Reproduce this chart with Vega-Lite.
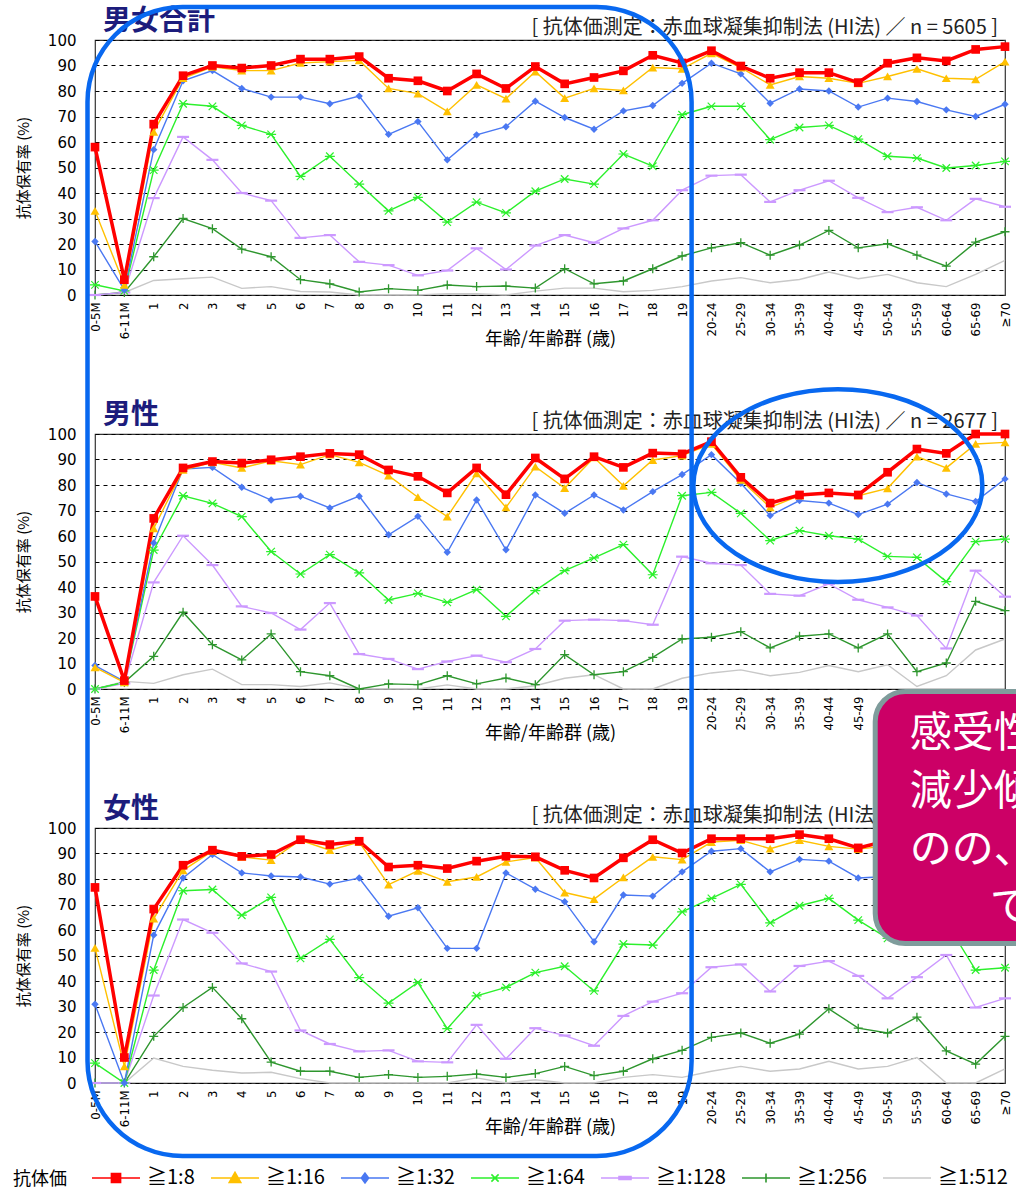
{
"$schema": "https://vega.github.io/schema/vega-lite/v6.json",
"padding": {"left": 13, "top": 4, "right": 0, "bottom": 0},
"background": "white",
"bounds": "flush",
"spacing": 139,
"config": {
  "font": "Noto Sans CJK JP",
  "view": {"stroke": "#333333", "strokeWidth": 1.2},
  "axisX": {"labelAngle": -90, "labelFont": "DejaVu Sans Condensed, DejaVu Sans", "labelFontSize": 13, "labelColor": "#000000", "labelPadding": 7, "labelOverlap": false, "ticks": false, "domain": false, "grid": false, "titleFontSize": 18, "titleFontWeight": "normal", "titleColor": "#000000", "titleY": 44, "titleBaseline": "middle"},
  "axisY": {"grid": true, "tickCount": 11, "gridColor": "#000000", "gridDash": [4, 4], "gridWidth": 1, "gridOpacity": 1, "domain": false, "ticks": false, "labelFont": "DejaVu Sans", "labelFontSize": 15, "labelColor": "#000000", "labelPadding": 19, "titleFontSize": 15, "titleFontWeight": "normal", "titleColor": "#000000", "titlePadding": 16},
  "legend": {"labelFont": "Noto Sans CJK JP", "titleFont": "Noto Sans CJK JP"}
},
"data": {"values": [
{"sex":"男女合計","age":"0-5M","≧1:8":58,"≧1:16":33,"≧1:32":21,"≧1:64":4,"≧1:128":0,"≧1:256":0,"≧1:512":0},
{"sex":"男女合計","age":"6-11M","≧1:8":6,"≧1:16":4,"≧1:32":2,"≧1:64":1.6,"≧1:128":1,"≧1:256":1,"≧1:512":1},
{"sex":"男女合計","age":"1","≧1:8":67,"≧1:16":64,"≧1:32":57,"≧1:64":49,"≧1:128":38,"≧1:256":15,"≧1:512":5.7},
{"sex":"男女合計","age":"2","≧1:8":86,"≧1:16":85,"≧1:32":84,"≧1:64":75,"≧1:128":62,"≧1:256":30,"≧1:512":6.4},
{"sex":"男女合計","age":"3","≧1:8":90,"≧1:16":89.5,"≧1:32":88,"≧1:64":74,"≧1:128":53,"≧1:256":26,"≧1:512":7},
{"sex":"男女合計","age":"4","≧1:8":89,"≧1:16":88,"≧1:32":81,"≧1:64":66.5,"≧1:128":40,"≧1:256":18,"≧1:512":2.6},
{"sex":"男女合計","age":"5","≧1:8":90,"≧1:16":88,"≧1:32":77.6,"≧1:64":63,"≧1:128":37,"≧1:256":15,"≧1:512":3.3},
{"sex":"男女合計","age":"6","≧1:8":92.5,"≧1:16":91,"≧1:32":77.6,"≧1:64":46.5,"≧1:128":22.4,"≧1:256":6,"≧1:512":1.4},
{"sex":"男女合計","age":"7","≧1:8":92.5,"≧1:16":91.5,"≧1:32":75,"≧1:64":54.4,"≧1:128":23.5,"≧1:256":4.4,"≧1:512":1.2},
{"sex":"男女合計","age":"8","≧1:8":93.5,"≧1:16":92,"≧1:32":78,"≧1:64":43.5,"≧1:128":13,"≧1:256":1.2,"≧1:512":0},
{"sex":"男女合計","age":"9","≧1:8":85,"≧1:16":81,"≧1:32":63,"≧1:64":33,"≧1:128":11.7,"≧1:256":2.5,"≧1:512":0},
{"sex":"男女合計","age":"10","≧1:8":84,"≧1:16":79,"≧1:32":68,"≧1:64":38.3,"≧1:128":7.7,"≧1:256":1.8,"≧1:512":0},
{"sex":"男女合計","age":"11","≧1:8":80,"≧1:16":72,"≧1:32":53,"≧1:64":28.6,"≧1:128":9.6,"≧1:256":3.9,"≧1:512":0.5},
{"sex":"男女合計","age":"12","≧1:8":86.7,"≧1:16":82.4,"≧1:32":62.8,"≧1:64":36.4,"≧1:128":18.3,"≧1:256":3.3,"≧1:512":0.5},
{"sex":"男女合計","age":"13","≧1:8":81,"≧1:16":77,"≧1:32":66,"≧1:64":32.2,"≧1:128":10,"≧1:256":3.5,"≧1:512":0},
{"sex":"男女合計","age":"14","≧1:8":89.6,"≧1:16":87.6,"≧1:32":76,"≧1:64":40.7,"≧1:128":19.4,"≧1:256":2.7,"≧1:512":1.5},
{"sex":"男女合計","age":"15","≧1:8":82.8,"≧1:16":77.2,"≧1:32":69.6,"≧1:64":45.5,"≧1:128":23.5,"≧1:256":10.3,"≧1:512":2.7},
{"sex":"男女合計","age":"16","≧1:8":85.3,"≧1:16":81,"≧1:32":65,"≧1:64":43.5,"≧1:128":20.5,"≧1:256":4.4,"≧1:512":2.7},
{"sex":"男女合計","age":"17","≧1:8":87.9,"≧1:16":80.2,"≧1:32":72.2,"≧1:64":55.3,"≧1:128":26.1,"≧1:256":5.5,"≧1:512":1.3},
{"sex":"男女合計","age":"18","≧1:8":94,"≧1:16":89.2,"≧1:32":74.3,"≧1:64":50.5,"≧1:128":29.3,"≧1:256":10.3,"≧1:512":1.8},
{"sex":"男女合計","age":"19","≧1:8":91,"≧1:16":88.7,"≧1:32":83,"≧1:64":70.7,"≧1:128":41.1,"≧1:256":15.3,"≧1:512":3.3},
{"sex":"男女合計","age":"20-24","≧1:8":95.8,"≧1:16":94.8,"≧1:32":90.9,"≧1:64":74,"≧1:128":46.8,"≧1:256":18.5,"≧1:512":5.5},
{"sex":"男女合計","age":"25-29","≧1:8":89.8,"≧1:16":89.2,"≧1:32":86.7,"≧1:64":74,"≧1:128":47.2,"≧1:256":20.5,"≧1:512":6.8},
{"sex":"男女合計","age":"30-34","≧1:8":85,"≧1:16":82.4,"≧1:32":75.2,"≧1:64":60.9,"≧1:128":36.5,"≧1:256":15.6,"≧1:512":4.8},
{"sex":"男女合計","age":"35-39","≧1:8":87.2,"≧1:16":85.7,"≧1:32":80.8,"≧1:64":65.7,"≧1:128":41.1,"≧1:256":19.6,"≧1:512":6.1},
{"sex":"男女合計","age":"40-44","≧1:8":87.2,"≧1:16":85,"≧1:32":80,"≧1:64":66.5,"≧1:128":44.8,"≧1:256":25.3,"≧1:512":9},
{"sex":"男女合計","age":"45-49","≧1:8":83.3,"≧1:16":83,"≧1:32":73.7,"≧1:64":61.1,"≧1:128":38.1,"≧1:256":18.5,"≧1:512":6.4},
{"sex":"男女合計","age":"50-54","≧1:8":90.9,"≧1:16":85.7,"≧1:32":77.2,"≧1:64":54.4,"≧1:128":32.5,"≧1:256":20.1,"≧1:512":8.1},
{"sex":"男女合計","age":"55-59","≧1:8":93,"≧1:16":88.7,"≧1:32":75.9,"≧1:64":53.7,"≧1:128":34.4,"≧1:256":15.6,"≧1:512":4.8},
{"sex":"男女合計","age":"60-64","≧1:8":91.8,"≧1:16":85,"≧1:32":72.6,"≧1:64":49.8,"≧1:128":29.3,"≧1:256":11.3,"≧1:512":3.3},
{"sex":"男女合計","age":"65-69","≧1:8":96.3,"≧1:16":84.6,"≧1:32":70,"≧1:64":50.8,"≧1:128":37.7,"≧1:256":20.7,"≧1:512":8.1},
{"sex":"男女合計","age":"≥70","≧1:8":97.4,"≧1:16":91.5,"≧1:32":74.8,"≧1:64":52.4,"≧1:128":34.6,"≧1:256":24.8,"≧1:512":13.6},
{"sex":"男性","age":"0-5M","≧1:8":36.3,"≧1:16":8.5,"≧1:32":9.2,"≧1:64":0,"≧1:128":0,"≧1:256":0,"≧1:512":0},
{"sex":"男性","age":"6-11M","≧1:8":3.3,"≧1:16":2.6,"≧1:32":3,"≧1:64":2.6,"≧1:128":2.2,"≧1:256":2.6,"≧1:512":3},
{"sex":"男性","age":"1","≧1:8":66.9,"≧1:16":63,"≧1:32":57.3,"≧1:64":54.5,"≧1:128":41.8,"≧1:256":12.8,"≧1:512":2.2},
{"sex":"男性","age":"2","≧1:8":86.7,"≧1:16":85.9,"≧1:32":86.3,"≧1:64":75.8,"≧1:128":60.1,"≧1:256":30.1,"≧1:512":5.6},
{"sex":"男性","age":"3","≧1:8":89.2,"≧1:16":88.9,"≧1:32":86.9,"≧1:64":72.8,"≧1:128":48.6,"≧1:256":17.4,"≧1:512":7.8},
{"sex":"男性","age":"4","≧1:8":88.6,"≧1:16":86.7,"≧1:32":79.1,"≧1:64":67.6,"≧1:128":32.4,"≧1:256":11.4,"≧1:512":1.7},
{"sex":"男性","age":"5","≧1:8":89.9,"≧1:16":89.5,"≧1:32":74.1,"≧1:64":53.9,"≧1:128":29.8,"≧1:256":21.6,"≧1:512":1.7},
{"sex":"男性","age":"6","≧1:8":91.1,"≧1:16":88,"≧1:32":75.6,"≧1:64":45.1,"≧1:128":23.3,"≧1:256":6.8,"≧1:512":1},
{"sex":"男性","age":"7","≧1:8":92.4,"≧1:16":91.9,"≧1:32":71,"≧1:64":52.7,"≧1:128":33.7,"≧1:256":5.2,"≧1:512":2.4},
{"sex":"男性","age":"8","≧1:8":91.9,"≧1:16":88.9,"≧1:32":75.6,"≧1:64":45.5,"≧1:128":13.7,"≧1:256":0,"≧1:512":0},
{"sex":"男性","age":"9","≧1:8":85.9,"≧1:16":83.7,"≧1:32":60.5,"≧1:64":34.9,"≧1:128":11.8,"≧1:256":2,"≧1:512":0},
{"sex":"男性","age":"10","≧1:8":83.4,"≧1:16":75.2,"≧1:32":67.7,"≧1:64":37.5,"≧1:128":7.8,"≧1:256":1.7,"≧1:512":0},
{"sex":"男性","age":"11","≧1:8":76.9,"≧1:16":67.6,"≧1:32":53.6,"≧1:64":34,"≧1:128":10.8,"≧1:256":5.2,"≧1:512":1.6},
{"sex":"男性","age":"12","≧1:8":86.7,"≧1:16":84.6,"≧1:32":74.1,"≧1:64":39,"≧1:128":13.1,"≧1:256":2,"≧1:512":0},
{"sex":"男性","age":"13","≧1:8":76.2,"≧1:16":71.2,"≧1:32":54.6,"≧1:64":28.5,"≧1:128":10.5,"≧1:256":4.3,"≧1:512":0},
{"sex":"男性","age":"14","≧1:8":90.6,"≧1:16":87.2,"≧1:32":76.1,"≧1:64":38.6,"≧1:128":15.7,"≧1:256":1.7,"≧1:512":1.3},
{"sex":"男性","age":"15","≧1:8":82.4,"≧1:16":78.8,"≧1:32":68.9,"≧1:64":46.4,"≧1:128":26.8,"≧1:256":13.5,"≧1:512":4.2},
{"sex":"男性","age":"16","≧1:8":91.1,"≧1:16":90.8,"≧1:32":76.1,"≧1:64":51.4,"≧1:128":27.2,"≧1:256":5.6,"≧1:512":5.6},
{"sex":"男性","age":"17","≧1:8":86.9,"≧1:16":79.7,"≧1:32":70.2,"≧1:64":56.6,"≧1:128":26.8,"≧1:256":6.8,"≧1:512":0},
{"sex":"男性","age":"18","≧1:8":92.5,"≧1:16":89.8,"≧1:32":77.4,"≧1:64":44.8,"≧1:128":25.2,"≧1:256":12.4,"≧1:512":0},
{"sex":"男性","age":"19","≧1:8":92.2,"≧1:16":91.5,"≧1:32":84.1,"≧1:64":75.8,"≧1:128":51.9,"≧1:256":19.6,"≧1:512":4.2},
{"sex":"男性","age":"20-24","≧1:8":97,"≧1:16":96.1,"≧1:32":91.9,"≧1:64":77.1,"≧1:128":49.3,"≧1:256":20.3,"≧1:512":6.3},
{"sex":"男性","age":"25-29","≧1:8":83,"≧1:16":82,"≧1:32":80.7,"≧1:64":68.9,"≧1:128":48.6,"≧1:256":22.5,"≧1:512":7.5},
{"sex":"男性","age":"30-34","≧1:8":72.9,"≧1:16":71.2,"≧1:32":68,"≧1:64":58.2,"≧1:128":37.3,"≧1:256":16.1,"≧1:512":5.2},
{"sex":"男性","age":"35-39","≧1:8":76.1,"≧1:16":75.8,"≧1:32":73.9,"≧1:64":62.1,"≧1:128":36.6,"≧1:256":20.7,"≧1:512":6.5},
{"sex":"男性","age":"40-44","≧1:8":76.9,"≧1:16":76.9,"≧1:32":72.9,"≧1:64":60.1,"≧1:128":41.2,"≧1:256":21.6,"≧1:512":9.2},
{"sex":"男性","age":"45-49","≧1:8":76.1,"≧1:16":75.8,"≧1:32":68.4,"≧1:64":58.8,"≧1:128":35,"≧1:256":16.1,"≧1:512":6.8},
{"sex":"男性","age":"50-54","≧1:8":85,"≧1:16":78.7,"≧1:32":72.5,"≧1:64":52,"≧1:128":32,"≧1:256":21.6,"≧1:512":9.5},
{"sex":"男性","age":"55-59","≧1:8":94.1,"≧1:16":91.1,"≧1:32":81,"≧1:64":51.6,"≧1:128":28.8,"≧1:256":6.8,"≧1:512":1},
{"sex":"男性","age":"60-64","≧1:8":92.4,"≧1:16":86.7,"≧1:32":76.5,"≧1:64":42.1,"≧1:128":15.9,"≧1:256":10.2,"≧1:512":5.2},
{"sex":"男性","age":"65-69","≧1:8":100,"≧1:16":96.1,"≧1:32":73.5,"≧1:64":57.8,"≧1:128":46.4,"≧1:256":34.4,"≧1:512":15.3},
{"sex":"男性","age":"≥70","≧1:8":100,"≧1:16":96.7,"≧1:32":82.4,"≧1:64":58.8,"≧1:128":36.2,"≧1:256":30.7,"≧1:512":19.6},
{"sex":"女性","age":"0-5M","≧1:8":76.7,"≧1:16":53,"≧1:32":30.9,"≧1:64":7.8,"≧1:128":0,"≧1:256":0,"≧1:512":0},
{"sex":"女性","age":"6-11M","≧1:8":10,"≧1:16":6.5,"≧1:32":0,"≧1:64":0,"≧1:128":0,"≧1:256":0,"≧1:512":0},
{"sex":"女性","age":"1","≧1:8":68.2,"≧1:16":64.5,"≧1:32":58,"≧1:64":44.3,"≧1:128":34.3,"≧1:256":18.3,"≧1:512":9.8},
{"sex":"女性","age":"2","≧1:8":85.4,"≧1:16":83.4,"≧1:32":80.4,"≧1:64":75.4,"≧1:128":64.1,"≧1:256":29.6,"≧1:512":6.5},
{"sex":"女性","age":"3","≧1:8":91.3,"≧1:16":90.9,"≧1:32":89.6,"≧1:64":75.9,"≧1:128":58.9,"≧1:256":37.5,"≧1:512":5},
{"sex":"女性","age":"4","≧1:8":88.9,"≧1:16":88.7,"≧1:32":82.4,"≧1:64":65.8,"≧1:128":46.9,"≧1:256":25.2,"≧1:512":3.9},
{"sex":"女性","age":"5","≧1:8":89.6,"≧1:16":87.4,"≧1:32":81.2,"≧1:64":72.8,"≧1:128":43.7,"≧1:256":8.2,"≧1:512":4.2},
{"sex":"女性","age":"6","≧1:8":95.4,"≧1:16":95.2,"≧1:32":80.8,"≧1:64":48.9,"≧1:128":20.6,"≧1:256":4.6,"≧1:512":1.7},
{"sex":"女性","age":"7","≧1:8":93.5,"≧1:16":91.3,"≧1:32":78,"≧1:64":56.3,"≧1:128":15.3,"≧1:256":4.6,"≧1:512":0},
{"sex":"女性","age":"8","≧1:8":94.8,"≧1:16":94.5,"≧1:32":80.4,"≧1:64":41.3,"≧1:128":12.4,"≧1:256":2.2,"≧1:512":0},
{"sex":"女性","age":"9","≧1:8":84.7,"≧1:16":77.8,"≧1:32":65.4,"≧1:64":31.3,"≧1:128":12.8,"≧1:256":3.3,"≧1:512":0},
{"sex":"女性","age":"10","≧1:8":85.4,"≧1:16":83.2,"≧1:32":68.7,"≧1:64":39.4,"≧1:128":8.5,"≧1:256":2.2,"≧1:512":0},
{"sex":"女性","age":"11","≧1:8":84.1,"≧1:16":78.9,"≧1:32":52.8,"≧1:64":21.3,"≧1:128":8.1,"≧1:256":2.6,"≧1:512":0},
{"sex":"女性","age":"12","≧1:8":87,"≧1:16":80.8,"≧1:32":52.8,"≧1:64":34.2,"≧1:128":22.8,"≧1:256":3.5,"≧1:512":2},
{"sex":"女性","age":"13","≧1:8":88.9,"≧1:16":86.7,"≧1:32":82.4,"≧1:64":37.5,"≧1:128":9.5,"≧1:256":2.2,"≧1:512":0},
{"sex":"女性","age":"14","≧1:8":88.7,"≧1:16":88.4,"≧1:32":76,"≧1:64":43.3,"≧1:128":21.5,"≧1:256":3.7,"≧1:512":1.3},
{"sex":"女性","age":"15","≧1:8":83.4,"≧1:16":74.7,"≧1:32":71.1,"≧1:64":45.8,"≧1:128":18.6,"≧1:256":6.5,"≧1:512":0},
{"sex":"女性","age":"16","≧1:8":80.4,"≧1:16":72.1,"≧1:32":55.4,"≧1:64":36.1,"≧1:128":14.6,"≧1:256":2.9,"≧1:512":0},
{"sex":"女性","age":"17","≧1:8":88.3,"≧1:16":80.6,"≧1:32":73.7,"≧1:64":54.5,"≧1:128":26.3,"≧1:256":4.6,"≧1:512":2.2},
{"sex":"女性","age":"18","≧1:8":95.4,"≧1:16":88.7,"≧1:32":73.3,"≧1:64":54.1,"≧1:128":31.9,"≧1:256":9.5,"≧1:512":3.3},
{"sex":"女性","age":"19","≧1:8":90.2,"≧1:16":87.6,"≧1:32":82.8,"≧1:64":67.1,"≧1:128":35.2,"≧1:256":12.8,"≧1:512":2.2},
{"sex":"女性","age":"20-24","≧1:8":95.8,"≧1:16":94.5,"≧1:32":90.9,"≧1:64":72.4,"≧1:128":45.4,"≧1:256":17.9,"≧1:512":4.6},
{"sex":"女性","age":"25-29","≧1:8":95.8,"≧1:16":95.2,"≧1:32":91.9,"≧1:64":77.9,"≧1:128":46.5,"≧1:256":19.6,"≧1:512":6.5},
{"sex":"女性","age":"30-34","≧1:8":95.8,"≧1:16":91.9,"≧1:32":82.8,"≧1:64":62.8,"≧1:128":35.9,"≧1:256":15.6,"≧1:512":4.6},
{"sex":"女性","age":"35-39","≧1:8":97.4,"≧1:16":95.2,"≧1:32":87.7,"≧1:64":69.5,"≧1:128":45.9,"≧1:256":19.2,"≧1:512":5.5},
{"sex":"女性","age":"40-44","≧1:8":95.8,"≧1:16":92.8,"≧1:32":87,"≧1:64":72.4,"≧1:128":47.8,"≧1:256":29.1,"≧1:512":8.5},
{"sex":"女性","age":"45-49","≧1:8":92.2,"≧1:16":91.7,"≧1:32":80.4,"≧1:64":63.9,"≧1:128":42,"≧1:256":21.5,"≧1:512":5.5},
{"sex":"女性","age":"50-54","≧1:8":95,"≧1:16":93,"≧1:32":81,"≧1:64":56.7,"≧1:128":33.2,"≧1:256":19.6,"≧1:512":6.5},
{"sex":"女性","age":"55-59","≧1:8":96,"≧1:16":94,"≧1:32":85,"≧1:64":57,"≧1:128":41.5,"≧1:256":25.8,"≧1:512":10},
{"sex":"女性","age":"60-64","≧1:8":96,"≧1:16":93,"≧1:32":83,"≧1:64":63,"≧1:128":50.2,"≧1:256":12.6,"≧1:512":0},
{"sex":"女性","age":"65-69","≧1:8":98,"≧1:16":95,"≧1:32":80,"≧1:64":44.3,"≧1:128":29.6,"≧1:256":7.4,"≧1:512":0},
{"sex":"女性","age":"≥70","≧1:8":97,"≧1:16":94,"≧1:32":82,"≧1:64":45.2,"≧1:128":33.2,"≧1:256":18.3,"≧1:512":5.5}
]},
"transform": [{"fold": ["≧1:512","≧1:256","≧1:128","≧1:64","≧1:32","≧1:16","≧1:8"], "as": ["titer","pct"]}],
"vconcat": [
{
  "width": 910, "height": 255,
  "transform": [{"filter": {"field": "sex", "equal": "男女合計"}}],
  "layer": [
    {
      "encoding": {
        "x": {"field": "age", "type": "ordinal", "sort": ["0-5M","6-11M","1","2","3","4","5","6","7","8","9","10","11","12","13","14","15","16","17","18","19","20-24","25-29","30-34","35-39","40-44","45-49","50-54","55-59","60-64","65-69","≥70"], "scale": {"type": "point", "padding": 0}, "title": "年齢/年齢群 (歳)"},
        "y": {"field": "pct", "type": "quantitative", "scale": {"domain": [0, 100], "nice": false}, "axis": {"values": [0,10,20,30,40,50,60,70,80,90,100]}, "title": "抗体保有率 (%)"}
      },
      "layer": [
        {"mark": {"type": "point", "filled": true, "opacity": 0, "size": 2304},
         "encoding": {"color": {"field": "titer", "type": "nominal"},
           "shape": {"field": "titer", "type": "nominal", "scale": {"domain": ["≧1:8","≧1:16","≧1:32","≧1:64","≧1:128","≧1:256","≧1:512"], "range": ["M-1,0H1M-0.19,-0.19H0.19V0.19H-0.19Z","M-1,0H1M0,-0.23L0.24,0.19H-0.24Z","M-1,0H1M0,-0.2L0.15,0L0,0.2L-0.15,0Z","M-1,0H1M-0.15,-0.15L0.15,0.15M-0.15,0.15L0.15,-0.15","M-1,0H1M-0.25,-0.06H0.25V0.06H-0.25Z","M-1,0H1M0,-0.19V0.19","M-1,0H1"]}}}},
        {"transform": [{"filter": "datum.titer !== '≧1:8'"}], "mark": {"type": "line", "strokeWidth": 1.4},
         "encoding": {"color": {"field": "titer", "type": "nominal", "scale": {"domain": ["≧1:8","≧1:16","≧1:32","≧1:64","≧1:128","≧1:256","≧1:512"], "range": ["#FF0000","#FFC000","#4A78F2","#2CF02C","#CC99FF","#2E962E","#C8C8C8"]},
           "legend": {"orient": "none", "legendX": -82, "legendY": 1113, "direction": "horizontal", "title": "抗体価", "titleOrient": "left", "titleAnchor": "middle", "titleBaseline": "top", "titleFontSize": 18, "titleFontWeight": "normal", "titleColor": "#000000", "titlePadding": 24, "labelFontSize": 20, "labelColor": "#000000", "labelOffset": 6, "columnPadding": 12, "symbolSize": 2304, "symbolStrokeWidth": 1.6, "symbolOpacity": 1}}}},
        {"transform": [{"filter": "datum.titer === '≧1:8'"}], "mark": {"type": "line", "strokeWidth": 3.5}, "encoding": {"color": {"field": "titer", "type": "nominal"}}},
        {"transform": [{"filter": "datum.titer === '≧1:256'"}], "mark": {"type": "point", "shape": "M-1,0H1M0,-1V1", "filled": false, "opacity": 1, "size": 81, "strokeWidth": 1.3}, "encoding": {"color": {"field": "titer", "type": "nominal"}}},
        {"transform": [{"filter": "datum.titer === '≧1:128'"}], "mark": {"type": "point", "shape": "M-1.2,-0.22H1.2V0.22H-1.2Z", "filled": true, "opacity": 1, "size": 100}, "encoding": {"color": {"field": "titer", "type": "nominal"}}},
        {"transform": [{"filter": "datum.titer === '≧1:64'"}], "mark": {"type": "point", "shape": "M-1,0H1M-0.75,-0.75L0.75,0.75M-0.75,0.75L0.75,-0.75", "filled": false, "opacity": 1, "size": 100, "strokeWidth": 1.2}, "encoding": {"color": {"field": "titer", "type": "nominal"}}},
        {"transform": [{"filter": "datum.titer === '≧1:32'"}], "mark": {"type": "point", "shape": "diamond", "filled": true, "opacity": 1, "size": 55}, "encoding": {"color": {"field": "titer", "type": "nominal"}}},
        {"transform": [{"filter": "datum.titer === '≧1:16'"}], "mark": {"type": "point", "shape": "triangle-up", "filled": true, "opacity": 1, "size": 80}, "encoding": {"color": {"field": "titer", "type": "nominal"}}},
        {"transform": [{"filter": "datum.titer === '≧1:8'"}], "mark": {"type": "point", "shape": "square", "filled": true, "opacity": 1, "size": 75}, "encoding": {"color": {"field": "titer", "type": "nominal"}}}
      ]
    },
    {"transform": [{"aggregate": [{"op": "count", "as": "n"}]}], "mark": {"type": "text", "align": "left", "baseline": "middle", "dx": 8, "dy": -18.5, "fontSize": 28, "fontWeight": "bold", "color": "#1C1C7C", "text": "男女合計"},
     "encoding": {"x": {"datum": "0-5M", "type": "ordinal"}, "y": {"datum": 100, "type": "quantitative"}}},
    {"transform": [{"aggregate": [{"op": "count", "as": "n"}]}], "mark": {"type": "text", "align": "right", "baseline": "middle", "dx": -7, "dy": -12.5, "fontSize": 20, "color": "#222222", "text": "[ 抗体価測定：赤血球凝集抑制法 (HI法) ／ n = 5605 ]"},
     "encoding": {"x": {"datum": "≥70", "type": "ordinal"}, "y": {"datum": 100, "type": "quantitative"}}}
  ]
},
{
  "width": 910, "height": 255,
  "transform": [{"filter": {"field": "sex", "equal": "男性"}}],
  "layer": [
    {
      "encoding": {
        "x": {"field": "age", "type": "ordinal", "sort": ["0-5M","6-11M","1","2","3","4","5","6","7","8","9","10","11","12","13","14","15","16","17","18","19","20-24","25-29","30-34","35-39","40-44","45-49","50-54","55-59","60-64","65-69","≥70"], "scale": {"type": "point", "padding": 0}, "title": "年齢/年齢群 (歳)"},
        "y": {"field": "pct", "type": "quantitative", "scale": {"domain": [0, 100], "nice": false}, "axis": {"values": [0,10,20,30,40,50,60,70,80,90,100]}, "title": "抗体保有率 (%)"}
      },
      "layer": [
        {"transform": [{"filter": "datum.titer !== '≧1:8'"}], "mark": {"type": "line", "strokeWidth": 1.4}, "encoding": {"color": {"field": "titer", "type": "nominal"}}},
        {"transform": [{"filter": "datum.titer === '≧1:8'"}], "mark": {"type": "line", "strokeWidth": 3.5}, "encoding": {"color": {"field": "titer", "type": "nominal"}}},
        {"transform": [{"filter": "datum.titer === '≧1:256'"}], "mark": {"type": "point", "shape": "M-1,0H1M0,-1V1", "filled": false, "opacity": 1, "size": 81, "strokeWidth": 1.3}, "encoding": {"color": {"field": "titer", "type": "nominal"}}},
        {"transform": [{"filter": "datum.titer === '≧1:128'"}], "mark": {"type": "point", "shape": "M-1.2,-0.22H1.2V0.22H-1.2Z", "filled": true, "opacity": 1, "size": 100}, "encoding": {"color": {"field": "titer", "type": "nominal"}}},
        {"transform": [{"filter": "datum.titer === '≧1:64'"}], "mark": {"type": "point", "shape": "M-1,0H1M-0.75,-0.75L0.75,0.75M-0.75,0.75L0.75,-0.75", "filled": false, "opacity": 1, "size": 100, "strokeWidth": 1.2}, "encoding": {"color": {"field": "titer", "type": "nominal"}}},
        {"transform": [{"filter": "datum.titer === '≧1:32'"}], "mark": {"type": "point", "shape": "diamond", "filled": true, "opacity": 1, "size": 55}, "encoding": {"color": {"field": "titer", "type": "nominal"}}},
        {"transform": [{"filter": "datum.titer === '≧1:16'"}], "mark": {"type": "point", "shape": "triangle-up", "filled": true, "opacity": 1, "size": 80}, "encoding": {"color": {"field": "titer", "type": "nominal"}}},
        {"transform": [{"filter": "datum.titer === '≧1:8'"}], "mark": {"type": "point", "shape": "square", "filled": true, "opacity": 1, "size": 75}, "encoding": {"color": {"field": "titer", "type": "nominal"}}}
      ]
    },
    {"transform": [{"aggregate": [{"op": "count", "as": "n"}]}], "mark": {"type": "text", "align": "left", "baseline": "middle", "dx": 8, "dy": -18.5, "fontSize": 28, "fontWeight": "bold", "color": "#1C1C7C", "text": "男性"},
     "encoding": {"x": {"datum": "0-5M", "type": "ordinal"}, "y": {"datum": 100, "type": "quantitative"}}},
    {"transform": [{"aggregate": [{"op": "count", "as": "n"}]}], "mark": {"type": "text", "align": "right", "baseline": "middle", "dx": -7, "dy": -12.5, "fontSize": 20, "color": "#222222", "text": "[ 抗体価測定：赤血球凝集抑制法 (HI法) ／ n = 2677 ]"},
     "encoding": {"x": {"datum": "≥70", "type": "ordinal"}, "y": {"datum": 100, "type": "quantitative"}}},
    {"transform": [{"aggregate": [{"op": "count", "as": "n"}]}], "mark": {"type": "point", "shape": "M-1,0C-1,-0.368,-0.552,-0.667,0,-0.667C0.552,-0.667,1,-0.368,1,0C1,0.368,0.552,0.667,0,0.667C-0.552,0.667,-1,0.368,-1,0Z", "size": 83521, "filled": false, "stroke": "#0868F0", "strokeWidth": 4.5, "opacity": 1, "xOffset": 9},
     "encoding": {"x": {"datum": "40-44", "type": "ordinal"}, "y": {"datum": 79.8, "type": "quantitative"}}}
  ]
},
{
  "width": 910, "height": 255,
  "transform": [{"filter": {"field": "sex", "equal": "女性"}}],
  "layer": [
    {
      "encoding": {
        "x": {"field": "age", "type": "ordinal", "sort": ["0-5M","6-11M","1","2","3","4","5","6","7","8","9","10","11","12","13","14","15","16","17","18","19","20-24","25-29","30-34","35-39","40-44","45-49","50-54","55-59","60-64","65-69","≥70"], "scale": {"type": "point", "padding": 0}, "title": "年齢/年齢群 (歳)"},
        "y": {"field": "pct", "type": "quantitative", "scale": {"domain": [0, 100], "nice": false}, "axis": {"values": [0,10,20,30,40,50,60,70,80,90,100]}, "title": "抗体保有率 (%)"}
      },
      "layer": [
        {"transform": [{"filter": "datum.titer !== '≧1:8'"}], "mark": {"type": "line", "strokeWidth": 1.4}, "encoding": {"color": {"field": "titer", "type": "nominal"}}},
        {"transform": [{"filter": "datum.titer === '≧1:8'"}], "mark": {"type": "line", "strokeWidth": 3.5}, "encoding": {"color": {"field": "titer", "type": "nominal"}}},
        {"transform": [{"filter": "datum.titer === '≧1:256'"}], "mark": {"type": "point", "shape": "M-1,0H1M0,-1V1", "filled": false, "opacity": 1, "size": 81, "strokeWidth": 1.3}, "encoding": {"color": {"field": "titer", "type": "nominal"}}},
        {"transform": [{"filter": "datum.titer === '≧1:128'"}], "mark": {"type": "point", "shape": "M-1.2,-0.22H1.2V0.22H-1.2Z", "filled": true, "opacity": 1, "size": 100}, "encoding": {"color": {"field": "titer", "type": "nominal"}}},
        {"transform": [{"filter": "datum.titer === '≧1:64'"}], "mark": {"type": "point", "shape": "M-1,0H1M-0.75,-0.75L0.75,0.75M-0.75,0.75L0.75,-0.75", "filled": false, "opacity": 1, "size": 100, "strokeWidth": 1.2}, "encoding": {"color": {"field": "titer", "type": "nominal"}}},
        {"transform": [{"filter": "datum.titer === '≧1:32'"}], "mark": {"type": "point", "shape": "diamond", "filled": true, "opacity": 1, "size": 55}, "encoding": {"color": {"field": "titer", "type": "nominal"}}},
        {"transform": [{"filter": "datum.titer === '≧1:16'"}], "mark": {"type": "point", "shape": "triangle-up", "filled": true, "opacity": 1, "size": 80}, "encoding": {"color": {"field": "titer", "type": "nominal"}}},
        {"transform": [{"filter": "datum.titer === '≧1:8'"}], "mark": {"type": "point", "shape": "square", "filled": true, "opacity": 1, "size": 75}, "encoding": {"color": {"field": "titer", "type": "nominal"}}}
      ]
    },
    {"transform": [{"aggregate": [{"op": "count", "as": "n"}]}], "mark": {"type": "text", "align": "left", "baseline": "middle", "dx": 8, "dy": -18.5, "fontSize": 28, "fontWeight": "bold", "color": "#1C1C7C", "text": "女性"},
     "encoding": {"x": {"datum": "0-5M", "type": "ordinal"}, "y": {"datum": 100, "type": "quantitative"}}},
    {"transform": [{"aggregate": [{"op": "count", "as": "n"}]}], "mark": {"type": "text", "align": "right", "baseline": "middle", "dx": -7, "dy": -12.5, "fontSize": 20, "color": "#222222", "text": "[ 抗体価測定：赤血球凝集抑制法 (HI法) ／ n = 2928 ]"},
     "encoding": {"x": {"datum": "≥70", "type": "ordinal"}, "y": {"datum": 100, "type": "quantitative"}}},
    {"transform": [{"aggregate": [{"op": "count", "as": "n"}]}], "mark": {"type": "rect", "filled": false, "stroke": "#0868F0", "strokeWidth": 4.5, "cornerRadius": 95, "xOffset": -7.5, "x2Offset": 9.5},
     "encoding": {"x": {"datum": "0-5M", "type": "ordinal"}, "x2": {"datum": "19"}, "y": {"datum": 422, "type": "quantitative"}, "y2": {"datum": -28.6}}},
    {"transform": [{"aggregate": [{"op": "count", "as": "n"}]}], "mark": {"type": "rect", "fill": "#CC0066", "stroke": "#7F9C9C", "strokeWidth": 5, "cornerRadius": 30, "xOffset": 17, "x2Offset": 40},
     "encoding": {"x": {"datum": "45-49", "type": "ordinal"}, "x2": {"datum": "≥70"}, "y": {"datum": 153.5, "type": "quantitative"}, "y2": {"datum": 54.7}}},
    {"transform": [{"aggregate": [{"op": "count", "as": "n"}]}], "mark": {"type": "text", "align": "left", "baseline": "top", "fontSize": 42, "lineHeight": 58, "color": "#FFFFFF", "dx": 51.5, "text": ["感受性", "減少傾", "のの、"]},
     "encoding": {"x": {"datum": "45-49", "type": "ordinal"}, "y": {"datum": 144.7, "type": "quantitative"}}},
    {"transform": [{"aggregate": [{"op": "count", "as": "n"}]}], "mark": {"type": "text", "align": "left", "baseline": "top", "fontSize": 42, "color": "#FFFFFF", "dx": 131.5, "text": "て"},
     "encoding": {"x": {"datum": "45-49", "type": "ordinal"}, "y": {"datum": 76.5, "type": "quantitative"}}}
  ]
}
]
}
